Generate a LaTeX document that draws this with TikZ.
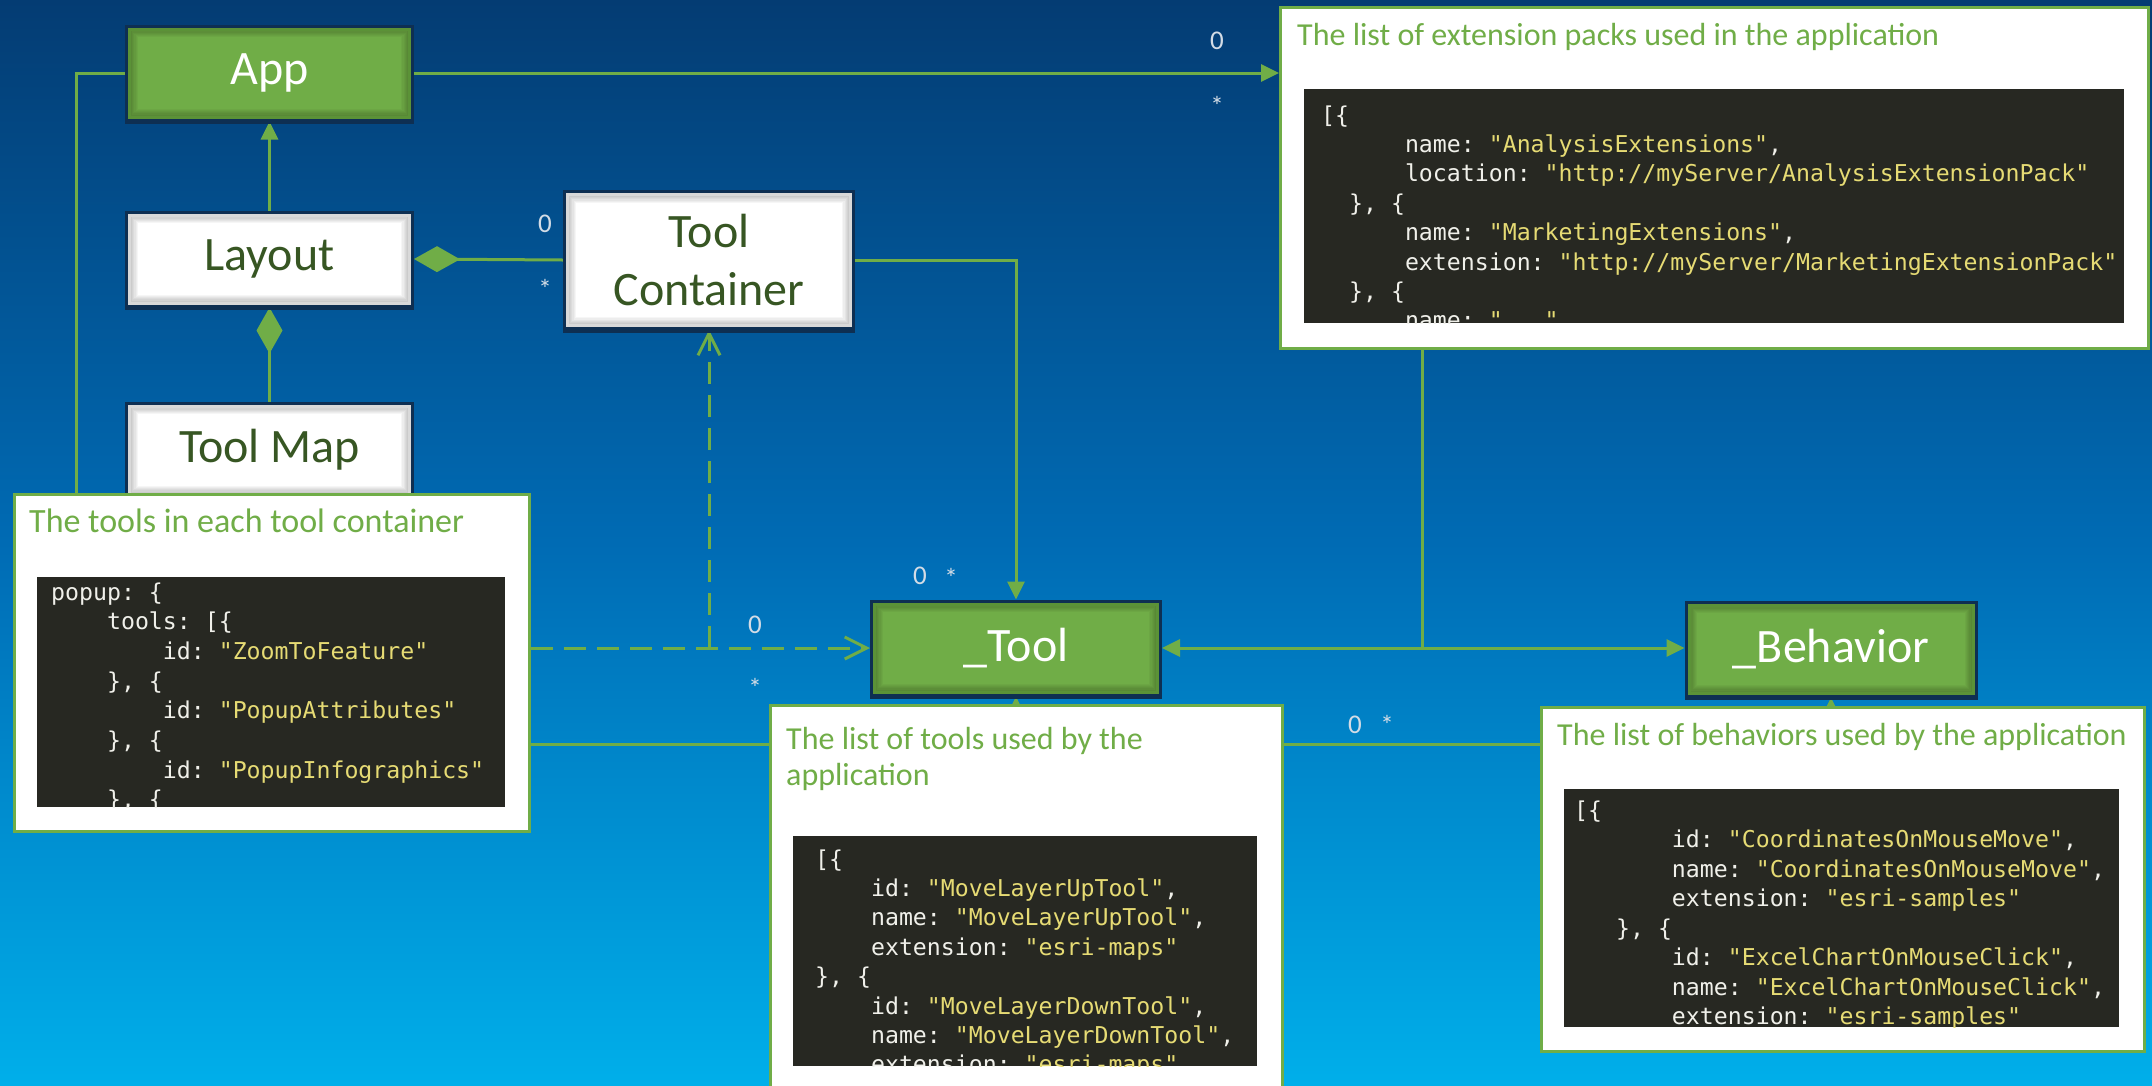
\documentclass[tikz,border=0pt]{standalone}
\usepackage{fontspec}
\setmainfont{Carlito}
\setmonofont{DejaVu Sans Mono}
\usetikzlibrary{arrows.meta}
\pgfdeclarelayer{bglayer}
\pgfdeclarelayer{linelayer}
\pgfsetlayers{bglayer,linelayer,main}

\definecolor{bgtop}{HTML}{043C73}
\definecolor{bgmid}{HTML}{006BB4}
\definecolor{bgbot}{HTML}{00AFEA}
\definecolor{umlgreen}{HTML}{70AD47}
\definecolor{umlgreendk}{HTML}{5B9237}
\definecolor{darkgreentext}{HTML}{375623}
\definecolor{navyc}{HTML}{0E2F52}
\definecolor{codebg}{HTML}{272822}
\definecolor{codefg}{HTML}{F0F0EA}
\definecolor{codestr}{HTML}{E6DB74}
\definecolor{multc}{HTML}{D3DCE6}

\newcommand\cin[1]{\hskip\dimexpr #1\fontcharwd\font`M\relax}
\newcommand\qs[1]{\textcolor{codestr}{"#1"}}
\newcommand\cl[2]{\hbox{\cin{#1}#2}}
\newcommand\codeblk[2]{\vtop{\baselineskip=#1pt\lineskiplimit=-100pt\lineskip=0pt #2}}

\begin{document}
\begin{tikzpicture}[x=1pt,y=-1pt,
  conn/.style={draw=umlgreen, line width=3pt},
  tri/.style={-{Triangle[length=18pt,width=17pt]}},
  vee/.style={-{Straight Barb[length=22pt,width=22pt]}},
  dsh/.style={dash pattern=on 22pt off 11pt},
  dia/.style={{Diamond[length=46pt,width=26pt]}-},
  innerglow/.style={path picture={\foreach \k in {1,...,7}{\draw[black, opacity=0.035, line width=2.4*\k pt] (path picture bounding box.south west) rectangle (path picture bounding box.north east);}}},
  classbox/.style={minimum width=280pt, minimum height=88pt, inner sep=0pt, outer sep=4.5pt, line width=3pt, align=center,
     preaction={draw=navyc, line width=9pt},
     preaction={draw=navyc, line width=9pt, transform canvas={yshift=-2.5pt}},
     innerglow, font=\fontsize{48}{58}\selectfont},
  greenbox/.style={classbox, fill=umlgreen, draw=umlgreendk, text=white},
  whitebox/.style={classbox, fill=white, draw=black!15, text=darkgreentext},
  notebox/.style={draw=umlgreen, fill=white, line width=3pt, anchor=north west, inner sep=0pt},
  codebox/.style={fill=codebg, anchor=north west, inner sep=0pt},
  codetext/.style={anchor=base west, inner sep=0pt, text=codefg, font=\ttfamily\fontsize{23.2}{29.4}\selectfont},
  title/.style={anchor=base west, inner sep=0pt, text=umlgreen, font=\fontsize{32}{36}\selectfont},
  mult/.style={text=multc, inner sep=0pt, font=\fontsize{27}{27}\selectfont}
]
\useasboundingbox (0,0) rectangle (2152,1085);
\begin{pgfonlayer}{bglayer}
\shade[top color=bgtop, bottom color=bgbot, middle color=bgmid] (0,0) rectangle (2152,1085);
\end{pgfonlayer}

% class boxes
\node[greenbox] (app) at (269.5,73) {App};
\node[whitebox] (layout) at (269.5,259) {Layout};
\node[whitebox] (toolmap) at (269.5,450) {Tool Map};
\node[whitebox, minimum width=283pt, minimum height=131pt] (tc) at (709,260) {Tool\\Container};
\node[greenbox, minimum width=283pt] (tool) at (1016,648) {\_Tool};
\node[greenbox, minimum width=284pt] (behavior) at (1831,649) {\_Behavior};

% note boxes
\node[notebox, minimum width=868pt, minimum height=341pt] (extnote) at (1279,6) {};
\node[notebox, minimum width=515pt, minimum height=337pt] (tcnote) at (13,493) {};
\node[notebox, minimum width=603pt, minimum height=344pt] (behnote) at (1540,706) {};

% connectors
\coordinate (tcn) at (76,493);
\coordinate (ej) at (1422,648);
\coordinate (hl) at (0,744);
\coordinate (ta) at (1016,740);
\coordinate (ba) at (1831,740);
\coordinate (dj) at (709,648);
\begin{pgfonlayer}{linelayer}
\draw[conn,tri] (app.east) -- (app.east -| extnote.west);
\draw[conn] (tcn) |- (app.west);
\draw[conn,tri] (layout.north) -- (app.south);
\draw[conn,dia] (layout.east) -- (tc.west);
\draw[conn,dia] (layout.south) -- (toolmap.north);
\draw[conn,tri] (tc.east) -| (tool.north);
\draw[conn,dsh,vee] (tcnote.east |- dj) -- (tool.west);
\draw[conn,dsh,vee] (dj) -- (tc.south);
\draw[conn] (extnote.south -| ej) -- (ej);
\draw[conn,tri] (ej) -- (tool.east);
\draw[conn,tri] (ej) -- (ej -| behavior.west);
\draw[conn] (tcnote.east |- hl) -- (behnote.west |- hl);
\draw[conn,tri] (ta) -- (tool.south);
\draw[conn,tri] (ba) -- (behavior.south);
\end{pgfonlayer}

\node[notebox, minimum width=512pt, minimum height=400pt] (toolsnote) at (769,704) {};

% multiplicities
\node[mult] (m1) at (1217,41) {0};
\node[mult] (m2) at (1217,106) {*};
\node[mult] (m3) at (545,224) {0};
\node[mult] (m4) at (545,289) {*};
\node[mult] (m5) at (920,576) {0};
\node[mult] (m6) at (951,578) {*};
\node[mult] (m7) at (755,625) {0};
\node[mult] (m8) at (755,688) {*};
\node[mult] (m9) at (1355,725) {0};
\node[mult] (m10) at (1387,725) {*};

% titles
\node[title] (t1) at (1297,45) {The list of extension packs used in the application};
\node[title, font=\fontsize{34}{36}\selectfont] (t2) at (29,532) {The tools in each tool container};
\node[title] (t3) at (786,749) {\vtop{\baselineskip=36pt\hbox{The list of tools used by the}\hbox{application}}};
\node[title] (t4) at (1557,745) {The list of behaviors used by the application};

% code boxes
\node[codebox, minimum width=820pt, minimum height=234pt] (extcode) at (1304,89) {};
\node[codebox, minimum width=468pt, minimum height=230pt] (tccode) at (37,577) {};
\node[codebox, minimum width=464pt, minimum height=230pt] (toolscode) at (793,836) {};
\node[codebox, minimum width=555pt, minimum height=238pt] (behcode) at (1564,789) {};

\begin{scope}
\clip (extcode.north west) rectangle (extcode.south east);
\node[codetext] (c1) at (1321,123) {\codeblk{29.4}{%
\cl{0}{[\{}
\cl{6}{name: \qs{AnalysisExtensions},}
\cl{6}{location: \qs{http://myServer/AnalysisExtensionPack}}
\cl{2}{\}, \{}
\cl{6}{name: \qs{MarketingExtensions},}
\cl{6}{extension: \qs{http://myServer/MarketingExtensionPack}}
\cl{2}{\}, \{}
\cl{6}{name: \qs{...},}}};
\end{scope}

\begin{scope}
\clip (tccode.north west) rectangle (tccode.south east);
\node[codetext] (c2) at (51,600) {\codeblk{29.7}{%
\cl{0}{popup: \{}
\cl{4}{tools: [\{}
\cl{8}{id: \qs{ZoomToFeature}}
\cl{4}{\}, \{}
\cl{8}{id: \qs{PopupAttributes}}
\cl{4}{\}, \{}
\cl{8}{id: \qs{PopupInfographics}}
\cl{4}{\}, \{}}};
\end{scope}

\begin{scope}
\clip (toolscode.north west) rectangle (toolscode.south east);
\node[codetext] (c3) at (815,867) {\codeblk{29.4}{%
\cl{0}{[\{}
\cl{4}{id: \qs{MoveLayerUpTool},}
\cl{4}{name: \qs{MoveLayerUpTool},}
\cl{4}{extension: \qs{esri-maps}}
\cl{0}{\}, \{}
\cl{4}{id: \qs{MoveLayerDownTool},}
\cl{4}{name: \qs{MoveLayerDownTool},}
\cl{4}{extension: \qs{esri-maps}}}};
\end{scope}

\begin{scope}
\clip (behcode.north west) rectangle (behcode.south east);
\node[codetext] (c4) at (1574,818) {\codeblk{29.5}{%
\cl{0}{[\{}
\cl{7}{id: \qs{CoordinatesOnMouseMove},}
\cl{7}{name: \qs{CoordinatesOnMouseMove},}
\cl{7}{extension: \qs{esri-samples}}
\cl{3}{\}, \{}
\cl{7}{id: \qs{ExcelChartOnMouseClick},}
\cl{7}{name: \qs{ExcelChartOnMouseClick},}
\cl{7}{extension: \qs{esri-samples}}}};
\end{scope}
\end{tikzpicture}
\end{document}
